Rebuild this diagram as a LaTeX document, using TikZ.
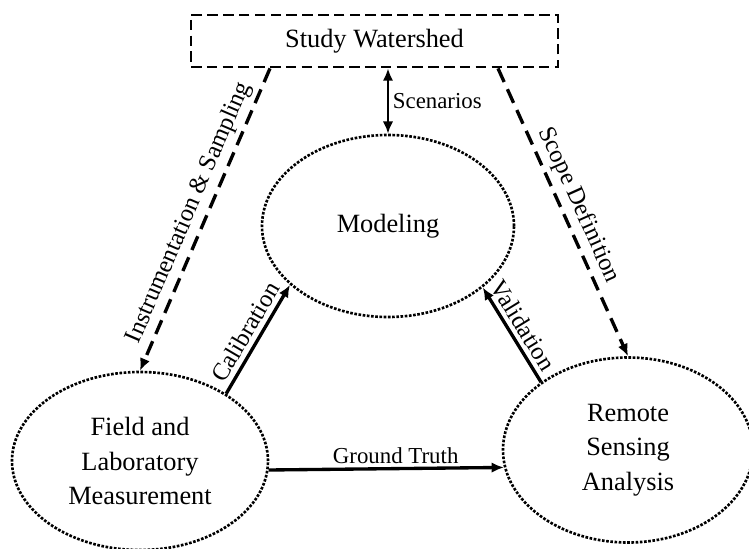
\documentclass[tikz,border=0pt]{standalone}
\usepackage{fontspec}
\setmainfont{Liberation Serif}
\usetikzlibrary{arrows.meta,shapes.geometric}
\def\nodefont{\fontsize{15}{19.5}\selectfont}
\def\labelfont{\fontsize{13}{15}\selectfont}
\def\slopefont{\fontsize{14}{16}\selectfont}

\begin{document}
\begin{tikzpicture}[
		blob/.style={ellipse, draw, line width=1.5pt, dash pattern=on 1.5pt off 0.9pt, inner sep=0pt, align=center, font=\nodefont},
		frame/.style={draw, line width=1.6pt, dash pattern=on 6pt off 3pt, inner sep=0pt, font=\nodefont},
		link/.style={line width=1.9pt, -{Latex[length=7pt,width=6pt]}},
		dlink/.style={link, dash pattern=on 8.5pt off 4.5pt},
		tag/.style={font=\labelfont, inner sep=2pt},
		stag/.style={font=\slopefont, inner sep=2.5pt, sloped, above}
	]
			%%%%% START %%%%%
			
			\useasboundingbox (0, 0) rectangle (14.98, 10.96);
			
			\node[frame, minimum width=7.34cm, minimum height=1.04cm] (shed) at (7.49, 10.14) {Study Watershed};
			
			\node[blob, minimum width=5.04cm, minimum height=3.64cm] (model) at (7.76, 6.44) {Modeling};
			\node[blob, minimum width=5.12cm, minimum height=3.56cm] (field) at (2.8, 1.74) {Field and\\Laboratory\\Measurement};
			\node[blob, minimum width=5cm, minimum height=3.7cm] (remote) at (12.56, 1.96) {Remote\\Sensing\\Analysis};
			
			\draw[line width=1.6pt, {Latex[length=7pt,width=6pt]}-{Latex[length=7pt,width=6pt]}] (model.north |- shed.south) -- (model.north) node[tag, midway, right] {Scenarios};
			
			\draw[dlink] ([xshift=-2.09cm]shed.south) -- (field.north) node[stag, midway] {Instrumentation \& Sampling};
			\draw[dlink] ([xshift=2.47cm]shed.south) -- (remote.north) node[stag, midway] {Scope Definition};
			
			\draw[link] (field.38) -- (model.211) node[stag, midway] {Calibration};
			\draw[link] (remote.142) -- (model.327) node[stag, pos=0.52] {Validation};
			\draw[link] (field.-4) -- (remote.188) node[tag, pos=0.54, above] {Ground Truth};
			
			%%%%% END %%%%%
		\end{tikzpicture}
\end{document}
